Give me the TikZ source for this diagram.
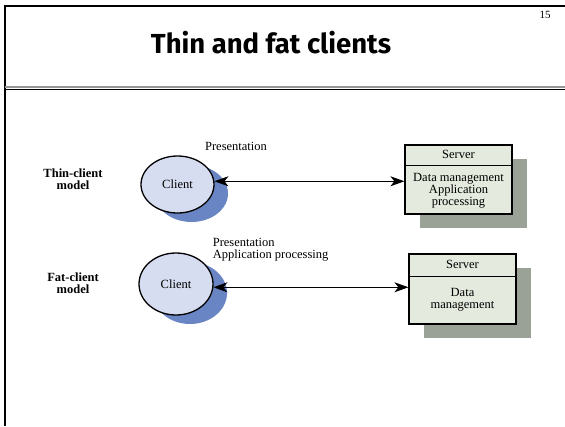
\documentclass[tikz,border=0pt]{standalone}
\usepackage{fontspec}
\setmainfont{Liberation Serif}
\newfontfamily\titlefont{Fira Sans}
\usetikzlibrary{shapes}
\usetikzlibrary{shadows}
\usetikzlibrary{arrows.meta}
\usetikzlibrary{positioning}

\definecolor{clientfill}{RGB}{214,221,240}
\definecolor{clientshade}{RGB}{106,133,196}
\definecolor{serverfill}{RGB}{228,234,222}
\definecolor{servershade}{RGB}{154,162,152}
\definecolor{rulegray}{RGB}{150,150,150}

\tikzset{
    client/.style = {ellipse, draw, line width = 1.3pt, fill = clientfill, inner sep = 0pt,
        general shadow = {fill = clientshade, shadow xshift = 14pt, shadow yshift = -9pt}},
    srvbox/.style = {rectangle, draw, line width = 1.2pt, fill = serverfill,
        minimum width = 107pt, minimum height = 69pt, inner sep = 0pt,
        general shadow = {fill = servershade, shadow xshift = 15pt, shadow yshift = -14pt}},
    srvtext/.style = {align = center, minimum width = 107pt, inner sep = 0pt, font = \fontsize{12.5}{12}\selectfont},
    model/.style = {align = center, font = \fontsize{12.5}{12}\selectfont\bfseries},
    small/.style = {font = \fontsize{12.5}{12}\selectfont},
    link/.style = {{Stealth[length = 14pt, width = 10pt, inset = 4pt]}-{Stealth[length = 14pt, width = 10pt, inset = 4pt]}, line width = 0.8pt}
}

\begin{document}
\begin{tikzpicture}[x = 1pt, y = -1pt, black, line width = 1pt]

    \useasboundingbox (0,0) rectangle (565,426);

    % slide frame
    \draw[line width = 2pt] (5,6) -- (565,6);
    \draw[line width = 2.5pt] (5,5) -- (5,426);
    \draw[rulegray, line width = 1.5pt] (5,87) -- (565,87);
    \draw[line width = 1.5pt] (5,89.5) -- (565,89.5);

    \node (title) at (271,43) {\titlefont\fontsize{27.5}{30}\selectfont\bfseries Thin and fat clients};
    \node (page) at (545,15) [font = \fontsize{11}{11}\selectfont] {15};

    % thin client
    \node (C1) at (177.5,184.5) [client, minimum width = 73pt, minimum height = 57pt, small] {Client};
    \node (M1) at (73,179) [model] {Thin-client\\model};
    \node (P1) at (236,146) [small] {Presentation};

    \node (S1) at (458.5,179.5) [srvbox] {};
    \node (H1) [srvtext, below = 0pt of S1.north, minimum height = 20pt] {Server};
    \node (T1) [srvtext, below = 0pt of H1, minimum height = 49pt] {Data management\\Application\\processing};
    \draw[line width = 1.2pt] (H1.south -| S1.west) -- (H1.south -| S1.east);

    \draw[link] (C1.5) -- (C1.5 -| S1.west);

    % fat client
    \node (C2) at (176,284) [client, minimum width = 74pt, minimum height = 62pt, small] {Client};
    \node (M2) at (73,283) [model] {Fat-client\\model};
    \node (P2) at (209,250) [anchor = west, align = left, small] {Presentation\\Application processing};

    \node (S2) at (462.5,289) [srvbox, minimum height = 70pt] {};
    \node (H2) [srvtext, below = 0pt of S2.north, minimum height = 22pt] {Server};
    \node (T2) [srvtext, below = 0pt of H2, minimum height = 46pt] {Data\\management};
    \draw[line width = 1.2pt] (H2.south -| S2.west) -- (H2.south -| S2.east);

    \draw[link] (C2.-5) -- (C2.-5 -| S2.west);

\end{tikzpicture}
\end{document}
